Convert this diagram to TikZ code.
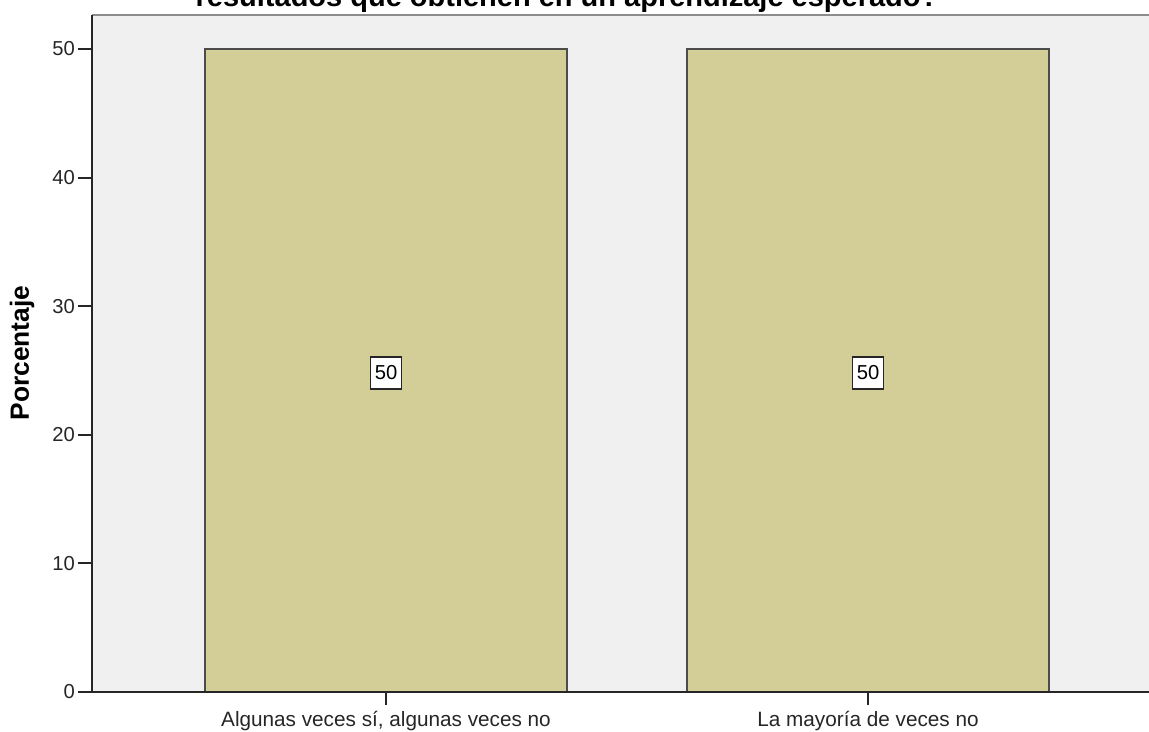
\documentclass[tikz,border=0pt]{standalone}
\usepackage{fontspec}
\setmainfont{Liberation Sans}
\definecolor{plotbg}{HTML}{F0F0F0}
\definecolor{barfill}{HTML}{D3CE98}
\definecolor{framegray}{HTML}{8C8C8C}

\begin{document}
\begin{tikzpicture}[x=0.02cm, y=-0.02cm,
bar/.style = {draw=black!70, line width=1.1pt, fill=barfill},
axis/.style = {draw=black!85, line width=1.1pt},
axistick/.style = {draw=black!85, line width=1.1pt},
ticklabel/.style = {font=\fontsize{11.5}{14}\selectfont, inner sep=1pt, text=black!85},
valbox/.style = {draw=black!85, fill=white, line width=0.8pt, inner sep=2.5pt,
                 minimum height=18pt, font=\fontsize{11.5}{14}\selectfont},
catlabel/.style = {font=\fontsize{11.8}{14}\selectfont, anchor=base, text=black!85}]

\useasboundingbox[fill=white] (0,0) rectangle (1149,731);

% plot area
\fill[plotbg] (92,15) rectangle (1149,692);
\draw[framegray, line width=1.3pt] (92,15) -- (1149,15);

% bars
\draw[bar] (205,49) rectangle (567,692);
\draw[bar] (687,49) rectangle (1049,692);

% axes
\draw[axis] (92,15) -- (92,692) -- (1149,692);

% y ticks
\foreach \v in {0,10,...,50}
{
  \draw[axistick] (78,692-12.86*\v) -- (92,692-12.86*\v);
  \node[ticklabel, anchor=east] (ytick\v) at (77,692-12.86*\v) {\v};
}

% x ticks and categories
\draw[axistick] (386,692) -- (386,705);
\draw[axistick] (868,692) -- (868,705);
\node[catlabel] (lblA) at (386,726) {Algunas veces sí, algunas veces no};
\node[catlabel] (lblB) at (868,726) {La mayoría de veces no};

% value labels
\node[valbox] (valA) at (386,373) {50};
\node[valbox] (valB) at (868,373) {50};

% titles
\node[rotate=90, font=\bfseries\fontsize{15}{17}\selectfont] (ylabel) at (22,353) {Porcentaje};
\node[anchor=base, font=\bfseries\fontsize{16.5}{19}\selectfont] (title) at (567,6)
  {resultados que obtienen en un aprendizaje esperado?};
\end{tikzpicture}
\end{document}
